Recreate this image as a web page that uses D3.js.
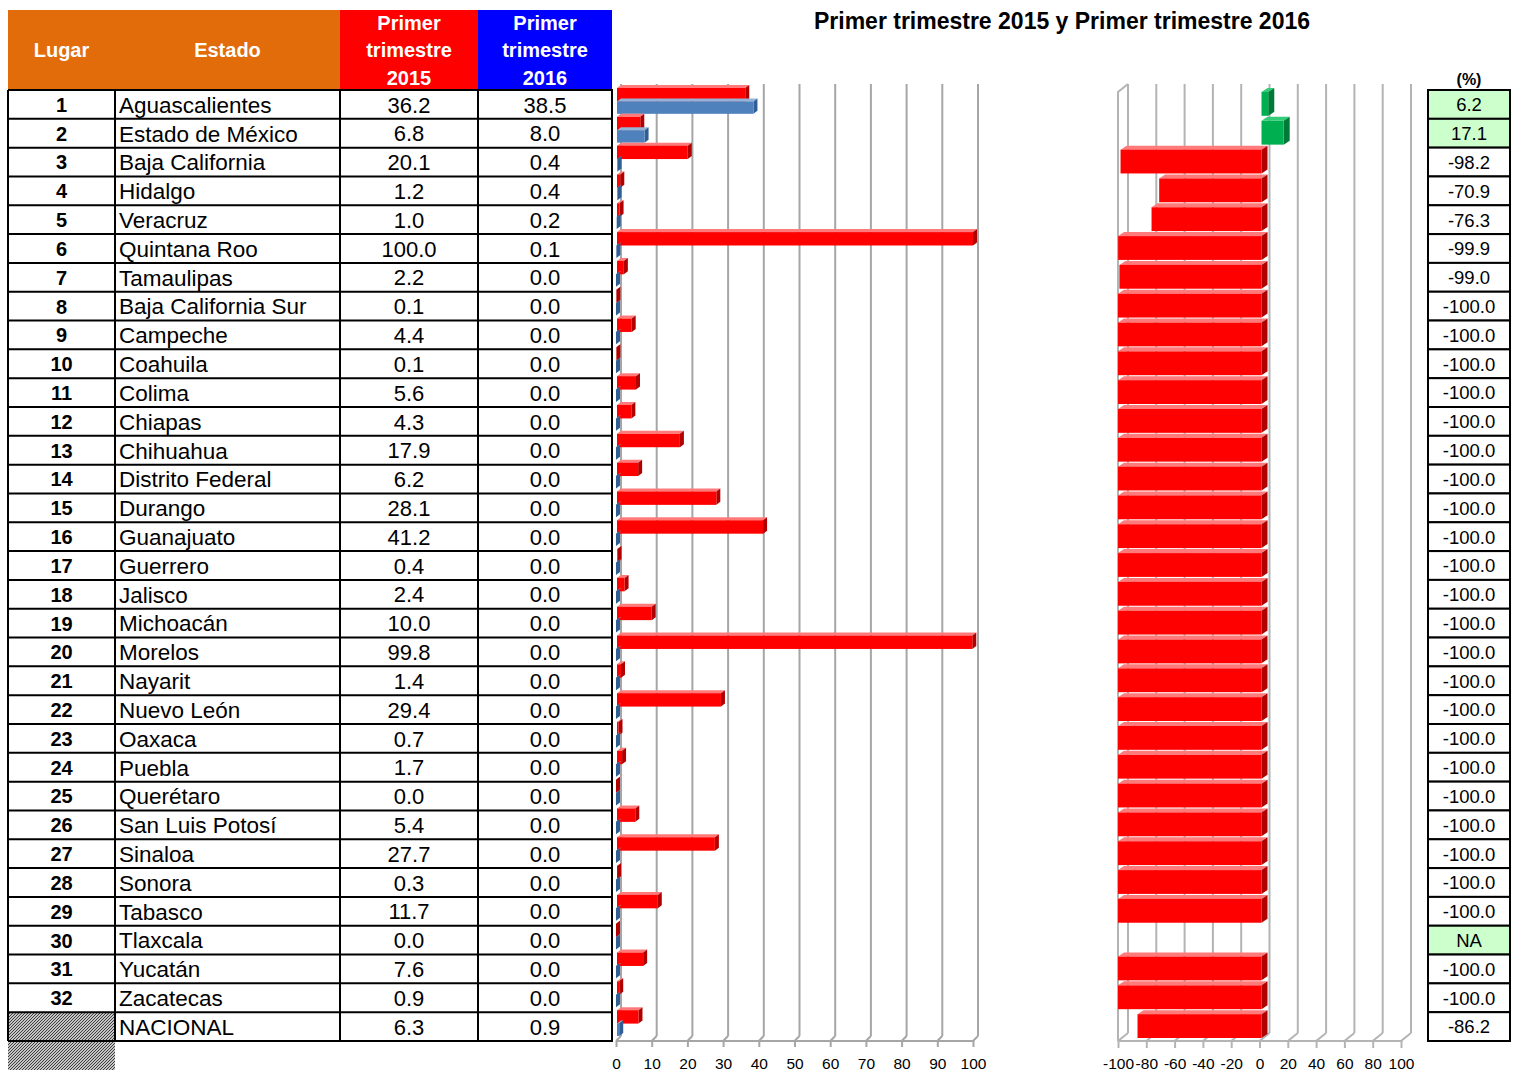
<!DOCTYPE html>
<html><head><meta charset="utf-8">
<script src="https://cdn.jsdelivr.net/npm/d3@7"></script>
<style>
html,body{margin:0;padding:0;background:#fff;}
svg text{font-family:"Liberation Sans",Arial,sans-serif;}
</style></head>
<body>
<svg id="c" width="1513" height="1072"></svg>
<script>
const lugares = ["1","2","3","4","5","6","7","8","9","10","11","12","13","14","15","16","17","18","19","20","21","22","23","24","25","26","27","28","29","30","31","32",""];
const estados = ["Aguascalientes","Estado de México","Baja California","Hidalgo","Veracruz","Quintana Roo","Tamaulipas","Baja California Sur","Campeche","Coahuila","Colima","Chiapas","Chihuahua","Distrito Federal","Durango","Guanajuato","Guerrero","Jalisco","Michoacán","Morelos","Nayarit","Nuevo León","Oaxaca","Puebla","Querétaro","San Luis Potosí","Sinaloa","Sonora","Tabasco","Tlaxcala","Yucatán","Zacatecas","NACIONAL"];
const v2015 = [36.2,6.8,20.1,1.2,1.0,100.0,2.2,0.1,4.4,0.1,5.6,4.3,17.9,6.2,28.1,41.2,0.4,2.4,10.0,99.8,1.4,29.4,0.7,1.7,0.0,5.4,27.7,0.3,11.7,0.0,7.6,0.9,6.3];
const v2016 = [38.5,8.0,0.4,0.4,0.2,0.1,0.0,0.0,0.0,0.0,0.0,0.0,0.0,0.0,0.0,0.0,0.0,0.0,0.0,0.0,0.0,0.0,0.0,0.0,0.0,0.0,0.0,0.0,0.0,0.0,0.0,0.0,0.9];
const pct = [6.2,17.1,-98.2,-70.9,-76.3,-99.9,-99.0,-100.0,-100.0,-100.0,-100.0,-100.0,-100.0,-100.0,-100.0,-100.0,-100.0,-100.0,-100.0,-100.0,-100.0,-100.0,-100.0,-100.0,-100.0,-100.0,-100.0,-100.0,-100.0,null,-100.0,-100.0,-86.2];
const headers = [["Lugar"],["Estado"],["Primer","trimestre","2015"],["Primer","trimestre","2016"]];
const leftTicks = [0,10,20,30,40,50,60,70,80,90,100];
const rightTicks = [-100,-80,-60,-40,-20,0,20,40,60,80,100];
const title = "Primer trimestre 2015 y Primer trimestre 2016";

const svg = d3.select("#c");
const defs = svg.append("defs");
const pat = defs.append("pattern").attr("id","hatch").attr("patternUnits","userSpaceOnUse").attr("width",3).attr("height",3);
pat.append("rect").attr("width",3).attr("height",3).attr("fill","#fff");
pat.append("path").attr("d","M-1,1 l2,-2 M0,3 l3,-3 M2,4 l2,-2").attr("stroke","#333").attr("stroke-width",1.1);

const idx = d3.range(estados.length);
const y = d3.scaleBand().domain(idx).range([90,1041]).paddingInner(0).paddingOuter(0);
const bw = y.bandwidth();

// ---------- table ----------
const colX = [8,115,340,478,612];
const headFill = ["#e26b0a","#e26b0a","#ff0000","#0000ff"];
const T = svg.append("g");
headers.forEach((h,i)=>{
  T.append("rect").attr("x",colX[i]).attr("y",10).attr("width",colX[i+1]-colX[i]+ (i<3?0.5:0)).attr("height",80).attr("fill",headFill[i]);
  const cx=(colX[i]+colX[i+1])/2;
  const lines=h.length;
  h.forEach((t,j)=>{
    T.append("text").attr("x",cx).attr("y",50+(j-(lines-1)/2)*27.5).attr("dy","0.36em")
      .attr("text-anchor","middle").attr("font-weight","bold").attr("font-size",20).attr("fill","#fff").text(t);
  });
});
T.append("rect").attr("x",colX[0]).attr("y",y(32)).attr("width",colX[1]-colX[0]).attr("height",bw).attr("fill","url(#hatch)");
T.append("rect").attr("x",colX[0]).attr("y",1041).attr("width",colX[1]-colX[0]).attr("height",29).attr("fill","url(#hatch)");
const rows = T.selectAll("g.row").data(idx).join("g").attr("class","row");
rows.append("text").attr("x",(colX[0]+colX[1])/2).attr("y",d=>y(d)+bw/2).attr("dy","0.37em").attr("text-anchor","middle")
  .attr("font-weight","bold").attr("font-size",20).text(d=>lugares[d]);
rows.append("text").attr("x",119).attr("y",d=>y(d)+bw/2).attr("dy","0.37em").attr("font-size",22.5).text(d=>estados[d]);
rows.append("text").attr("x",(colX[2]+colX[3])/2).attr("y",d=>y(d)+bw/2).attr("dy","0.37em").attr("text-anchor","middle").attr("font-size",22).text(d=>v2015[d].toFixed(1));
rows.append("text").attr("x",(colX[3]+colX[4])/2).attr("y",d=>y(d)+bw/2).attr("dy","0.37em").attr("text-anchor","middle").attr("font-size",22).text(d=>v2016[d].toFixed(1));
const hl = idx.map(d=>y(d)).concat([1041]);
T.selectAll("line.h").data(hl).join("line").attr("x1",colX[0]).attr("x2",colX[4]+1).attr("y1",d=>d).attr("y2",d=>d).attr("stroke","#000").attr("stroke-width",2);
T.selectAll("line.v").data(colX).join("line").attr("x1",d=>d).attr("x2",d=>d).attr("y1",90).attr("y2",1041).attr("stroke","#000").attr("stroke-width",2);

// ---------- 3D bar helper ----------
function bar3d(g,x0,x1,yy,h,dx,dy,cFront,cTop,cSide){
  g.append("path").attr("d",`M${x0},${yy}L${x0+dx},${yy+dy}L${x1+dx},${yy+dy}L${x1},${yy}Z`).attr("fill",cTop);
  g.append("path").attr("d",`M${x1},${yy}L${x1+dx},${yy+dy}L${x1+dx},${yy+h+dy}L${x1},${yy+h}Z`).attr("fill",cSide);
  if(x1>x0) g.append("rect").attr("x",x0).attr("y",yy).attr("width",x1-x0).attr("height",h).attr("fill",cFront);
}

// ---------- left chart ----------
const xL = d3.scaleLinear().domain([0,100]).range([616,973]);
const L = svg.append("g");
const dxL=5, dyL=-5;
L.selectAll("line.g").data(leftTicks).join("line")
  .attr("x1",d=>xL(d)+dxL).attr("x2",d=>xL(d)+dxL).attr("y1",84).attr("y2",1041+dyL)
  .attr("stroke","#a6a6a6").attr("stroke-width",2);
L.selectAll("line.f").data(leftTicks).join("line")
  .attr("x1",d=>xL(d)).attr("x2",d=>xL(d)+dxL).attr("y1",1041).attr("y2",1041+dyL)
  .attr("stroke","#a6a6a6").attr("stroke-width",2);
L.append("line").attr("x1",xL(0)).attr("x2",xL(100)).attr("y1",1041).attr("y2",1041).attr("stroke","#a6a6a6").attr("stroke-width",2);
const ys = d3.scaleBand().domain(["a","b"]).range([-2, bw-4]);
idx.forEach(i=>{
  const g=L.append("g");
  bar3d(g,xL(0)+1,xL(v2015[i]),y(i)+ys("a"),ys.bandwidth(),4,-3,"#ff0000","#ff7a7a","#b00000");
  bar3d(g,xL(0)+1,xL(v2016[i]),y(i)+ys("b"),ys.bandwidth()-1,4,-3,"#4f81bd","#95b3d7","#2f5f95");
});
const axL = d3.axisBottom(xL).tickValues(leftTicks).tickSize(6).tickPadding(11).tickFormat(d=>String(d));
const gaL = L.append("g").attr("transform","translate(0,1041)").call(axL);
gaL.select(".domain").remove();
gaL.selectAll(".tick line").attr("stroke","#a6a6a6").attr("stroke-width",2);
gaL.selectAll(".tick text").attr("font-size",15.5).attr("fill","#000").attr("font-family","Liberation Sans, Arial, sans-serif");

// ---------- right chart ----------
const xR = d3.scaleLinear().domain([-100,100]).range([1118,1401]);
const R = svg.append("g");
const dxR=10, dyR=-8;
R.selectAll("line.g").data(rightTicks).join("line")
  .attr("x1",d=>xR(d)+dxR).attr("x2",d=>xR(d)+dxR).attr("y1",84).attr("y2",1041+dyR)
  .attr("stroke","#b4b4b4").attr("stroke-width",2);
R.selectAll("line.f").data(rightTicks).join("line")
  .attr("x1",d=>xR(d)).attr("x2",d=>xR(d)+dxR).attr("y1",1041).attr("y2",1041+dyR)
  .attr("stroke","#b4b4b4").attr("stroke-width",2);
R.append("line").attr("x1",xR(-100)).attr("x2",xR(100)).attr("y1",1041).attr("y2",1041).attr("stroke","#b4b4b4").attr("stroke-width",2);
R.append("path").attr("d",`M${xR(-100)},1041L${xR(-100)},${84-dyR}L${xR(-100)+dxR},84`).attr("fill","none").attr("stroke","#b4b4b4").attr("stroke-width",2);
idx.forEach(i=>{
  const v=pct[i];
  if(v===null) return;
  const g=R.append("g");
  const yy=y(i)+2, h=bw-5;
  if(v<0) bar3d(g,xR(v),xR(0)+2,yy,h,6,-4,"#ff0000","#ff7a7a","#b00000");
  else bar3d(g,xR(0)+2,xR(v),yy,h,6,-4,"#00b050","#33cc77","#007a38");
});
const axR = d3.axisBottom(xR).tickValues(rightTicks).tickSize(7).tickPadding(10).tickFormat(d=>String(d));
const gaR = R.append("g").attr("transform","translate(0,1041)").call(axR);
gaR.select(".domain").remove();
gaR.selectAll(".tick line").attr("stroke","#b4b4b4").attr("stroke-width",2);
gaR.selectAll(".tick text").attr("font-size",15.5).attr("fill","#000").attr("font-family","Liberation Sans, Arial, sans-serif");

// ---------- pct column ----------
const P = svg.append("g");
P.append("text").attr("x",1469).attr("y",79).attr("dy","0.36em").attr("text-anchor","middle").attr("font-weight","bold").attr("font-size",16).text("(%)");
idx.forEach(i=>{
  P.append("rect").attr("x",1428).attr("y",y(i)).attr("width",82).attr("height",bw)
    .attr("fill",(pct[i]===null||pct[i]>0)?"#ccffcc":"#fff").attr("stroke","#000").attr("stroke-width",2);
  P.append("text").attr("x",1469).attr("y",y(i)+bw/2).attr("dy","0.37em").attr("text-anchor","middle").attr("font-size",18.5)
    .text(pct[i]===null?"NA":pct[i].toFixed(1));
});

// ---------- title ----------
svg.append("text").attr("x",1062).attr("y",21).attr("dy","0.36em").attr("text-anchor","middle").attr("font-weight","bold").attr("font-size",23).text(title);
</script>
</body></html>
